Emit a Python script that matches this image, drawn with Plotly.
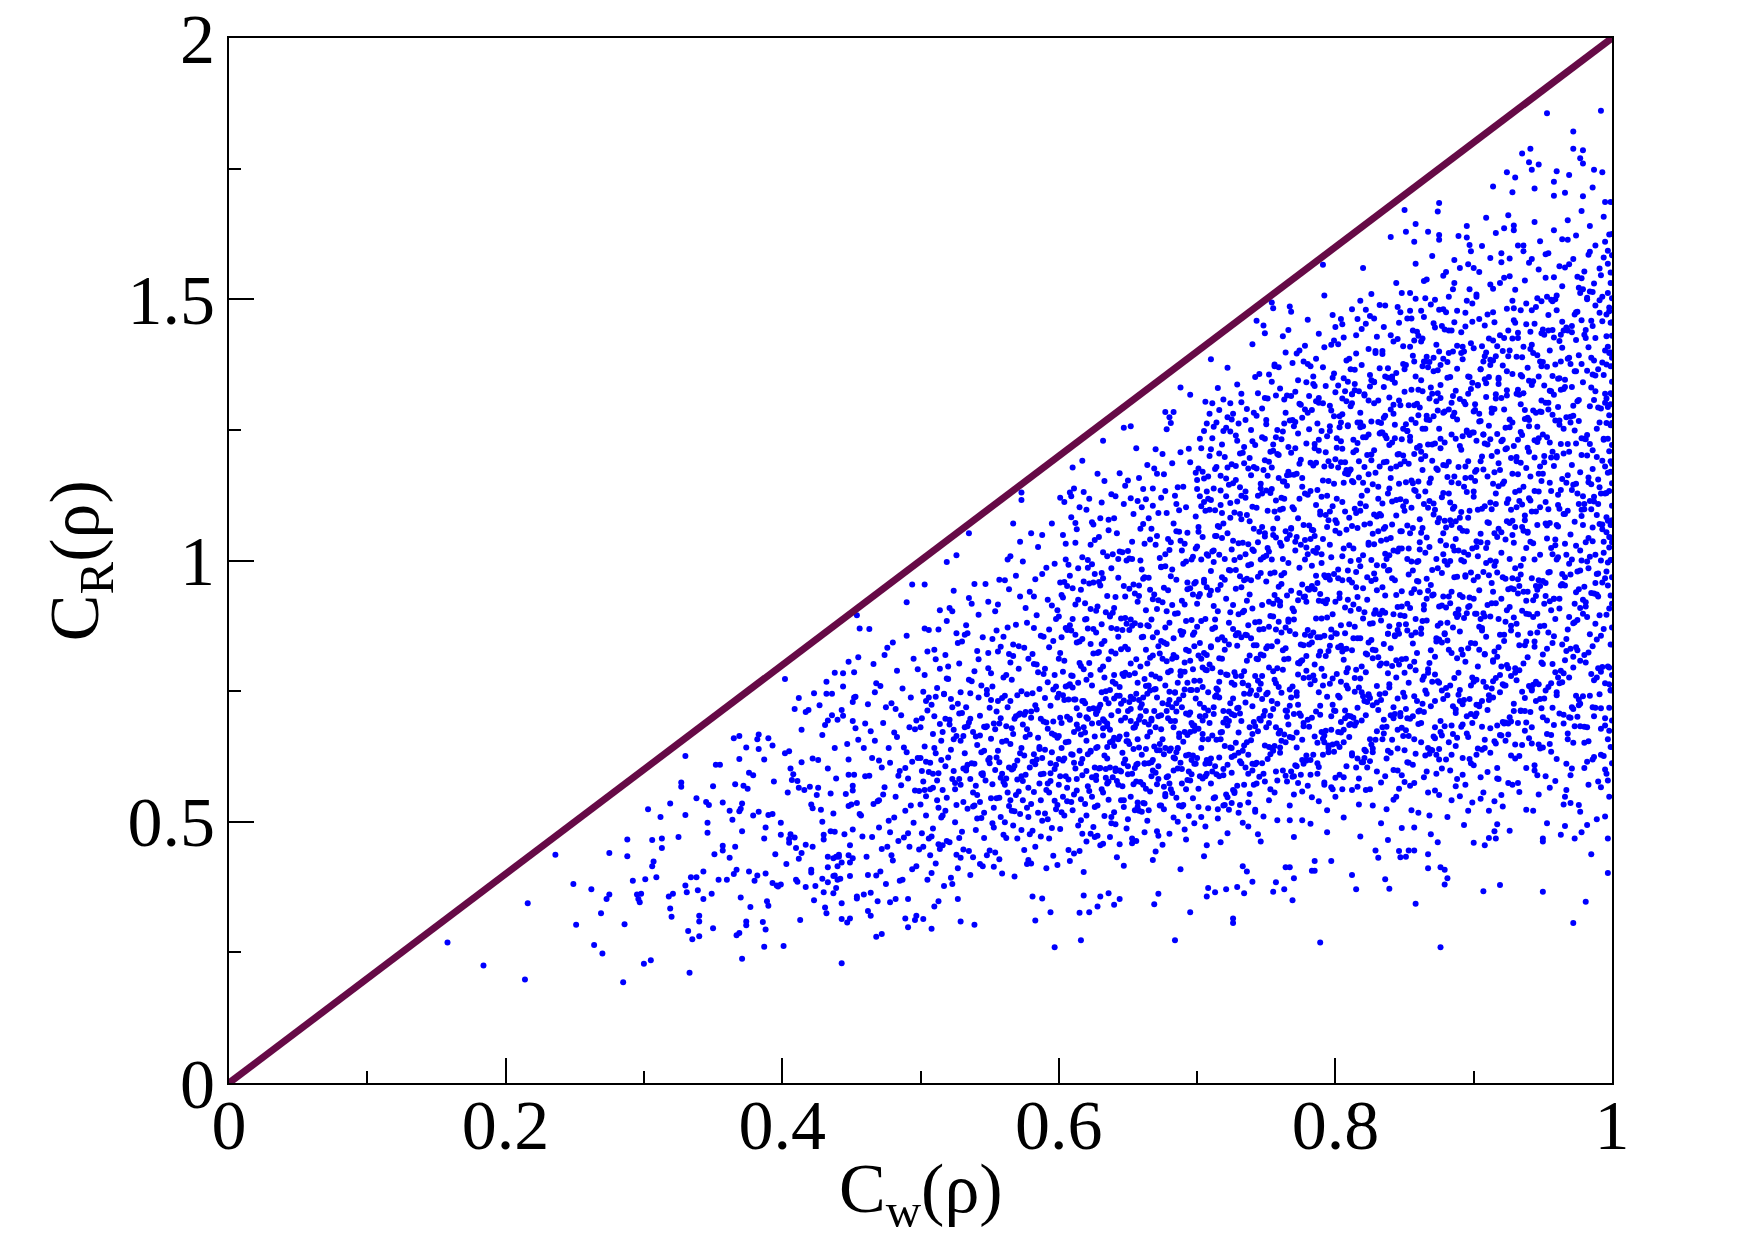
import plotly.graph_objects as go

# Points as (C_w, C_R) in thousandths, read/
PTS_015_045 = [(158,269),(184,225),(214,198),(216,344),(236,437),(249,381),(251,303),(262,371),(264,264),(269,325),(270,248),(273,352),(275,361),(275,440),(285,193),(286,304),(288,434),(288,466),(292,387),(295,361),(296,352),(297,346),(298,362),(301,390),(300,228),(305,235),(303,524),(306,465),(306,415),(307,424),(309,394),(312,509),(313,468),(313,450),(318,357),(319,334),(320,318),(321,362),(319,535),(325,471),(327,575),(327,567),(330,626),(330,513),(330,378),(331,365),(332,291),(333,211),(334,394),(338,394),(335,275),(338,545),(339,369),(340,309),(340,281),(340,320),(343,405),(343,352),(345,538),(347,532),(346,498),(346,479),(349,362),(350,568),(350,296),(351,438),(352,609),(355,609),(354,389),(357,537),(357,454),(357,445),(360,389),(362,431),(362,521),(364,504),(365,660),(366,572),(366,452),(367,408),(367,283),(369,287),(365,400),(369,620),(369,664),(369,520),(370,525),(371,535),(370,355),(371,482),(371,238),(372,569),(375,563),(374,642),(374,309),(374,302),(376,594),(379,589),(376,405),(377,337),(379,512),(380,387),(382,397),(383,519),(382,658),(383,667),(383,639),(386,308),(387,261),(387,619),(388,294),(388,489),(387,468),(388,401),(389,348),(390,339),(390,660),(393,646),(390,513),(393,515),(393,383),(394,577),(395,438),(396,378),(397,376),(399,380),(399,498),(399,475),(401,262),(402,773),(402,631),(405,635),(403,419),(404,556),(405,460),(405,467),(406,476),(406,602),(407,580),(408,591),(409,716),(409,470),(410,450),(411,578),(410,389),(411,385),(412,429),(412,565),(412,737),(413,312),(414,676),(414,614),(414,440),(416,561),(417,456),(417,375),(417,710),(419,714),(420,567),(421,533),(421,408),(421,403),(422,621),(422,452),(422,526),(423,350),(423,746),(424,377),(425,551),(426,618),(426,565),(427,723),(428,523),(429,666),(429,500),(429,391),(430,475),(430,466),(430,365),(431,336),(431,685),(432,768),(432,325),(433,694),(433,602),(433,433),(433,413),(433,384),(432,745),(436,745),(435,554),(435,482),(437,516),(436,704),(437,430),(437,363),(437,396),(438,397),(438,785),(438,641),(438,481),(439,583),(439,373),(440,415),(440,389),(439,433),(440,695),(441,433),(441,437),(442,391),(443,422),(443,344),(443,229),(443,314),(444,784),(444,759),(443,714),(444,703),(445,476),(446,553),(447,307),(447,649),(448,619),(448,590),(448,806),(448,530),(448,436),(449,422),(449,455),(449,396),(449,315),(450,533),(451,485),(451,430),(451,729),(451,560),(451,693),(452,786),(451,569),(452,590),(452,738),(453,679),(453,739),(454,536),(454,357),(455,815),(455,657),(456,515)]

PTS_045_050 = [(468,280),(472,285),(462,329),(464,320),(454,353),(459,361),(464,364),(469,348),(478,346),(482,352),(491,352),(491,298),(489,315),(496,312),(497,320),(456,870),(463,869),(454,895),(490,920),(494,954),
(457,512),(459,641),(461,433),(462,725),(463,588),(465,471),(466,802),(467,655),(468,397),(469,539),(470,617),(471,760),(472,448),(473,689),(474,566),(475,381),(476,833),(477,502),(478,613),(479,727),(480,426),(481,671),(482,548),(483,789),(484,463),(485,597),(486,704),(487,389),(488,642),(489,521),(490,856),(491,583),(492,452),(493,738),(494,615),(495,498),(496,677),(497,415),(498,792),(499,559),
(458,472),(460,587),(462,398),(464,673),(466,534),(468,765),(470,489),(471,405),(473,552),(475,719),(477,641),(479,436),(481,508),(483,662),(485,387),(487,755),(489,603),(491,478),(493,531),(495,812),(497,694),(499,447),(460,688),(465,622),(470,541),(474,819),(478,480),(482,716),(486,570),(490,633),(494,409),(498,622),(476,452),(484,588),(492,681),(467,748),(472,604),(480,843),(488,470),(496,560)]

PTS_050_055 = [(502,314),(508,295),(510,338),(513,348),(527,352),(529,309),(539,303),(503,954),(519,997),(526,1010),(535,1052),
(500,533),(501,698),(502,452),(503,781),(504,615),(505,389),(506,867),(507,562),(508,724),(509,487),
(510,641),(511,420),(512,756),(513,593),(514,905),(515,508),(516,672),(517,377),(518,819),(519,546),
(520,623),(521,461),(522,735),(523,582),(524,942),(525,499),(526,664),(527,411),(528,803),(529,571),
(530,708),(531,447),(532,631),(533,876),(534,525),(535,690),(536,398),(537,769),(538,556),(539,955),
(540,484),(541,647),(542,738),(543,419),(544,592),(545,853),(546,517),(547,681),(548,436),(549,794),
(500,622),(502,577),(504,731),(506,468),(508,402),(510,829),(512,541),(514,687),(516,455),(518,606),
(520,773),(522,393),(524,658),(526,532),(528,707),(530,481),(532,858),(534,609),(536,746),(538,432),
(540,569),(542,896),(544,507),(546,636),(548,752),(501,478),(503,644),(505,713),(507,436),(509,592),
(511,811),(513,527),(515,618),(517,745),(519,463),(521,686),(523,381),(525,574),(527,842),(529,655),
(531,538),(533,719),(535,444),(537,612),(539,788),(541,506),(543,665),(545,415),(547,579),(549,921),
(504,549),(509,668),(514,448),(519,774),(524,597),(529,431),(534,683),(539,531),(544,761),(549,618),
(506,595),(511,739),(516,561),(521,909),(526,437),(531,664),(536,582),(541,827),(546,469),(513,457),
(523,719),(533,603),(543,538),(548,683),(503,870),(518,697),(528,582),(538,672),(545,593),(535,928)]

PTS_055_060 = [(581,357),(588,353),(583,311),(594,327),(597,260),(567,1071),(573,1130),(573,1116),
(550,612),(551,784),(552,497),(553,688),(554,903),(555,545),(556,731),(557,428),(558,835),(559,653),
(560,576),(561,962),(562,469),(563,719),(564,604),(565,805),(566,521),(567,668),(568,395),(569,877),
(570,742),(571,558),(572,631),(573,484),(574,998),(575,705),(576,590),(577,419),(578,812),(579,667),
(580,534),(581,746),(582,871),(583,452),(584,619),(585,1026),(586,573),(587,697),(588,502),(589,783),
(590,638),(591,411),(592,925),(593,556),(594,722),(595,488),(596,846),(597,601),(598,759),(599,532),
(550,718),(552,572),(554,441),(556,636),(558,509),(560,854),(562,683),(564,530),(566,772),(568,607),
(570,468),(572,931),(574,578),(576,662),(578,427),(580,711),(582,557),(584,801),(586,643),(588,974),
(590,516),(592,678),(594,593),(596,435),(598,888),(551,659),(553,527),(555,866),(557,614),(559,401),
(561,741),(563,556),(565,649),(567,493),(569,702),(571,836),(573,587),(575,446),(577,677),(579,940),
(581,615),(583,723),(585,517),(587,856),(589,592),(591,690),(593,468),(595,633),(597,781),(599,661),
(552,759),(557,688),(562,583),(567,817),(572,515),(577,744),(582,629),(587,472),(592,767),(597,540),
(554,677),(559,592),(564,945),(569,551),(574,686),(579,476),(584,715),(589,854),(594,578),(599,417),
(551,545),(556,826),(561,499),(566,600),(571,705),(576,909),(581,483),(586,754),(591,561),(596,692),
(553,414),(558,698),(563,872),(568,520),(573,641),(578,565),(583,964),(588,622),(593,834),(598,609),
(555,623),(560,475),(565,731),(570,617),(575,833),(580,420),(585,661),(590,793),(595,914),(599,738),
(557,546),(567,602),(577,527),(587,591),(597,666),(562,781),(572,707),(582,802),(592,505),(550,445),
(565,1008),(580,1052),(595,1071)]

PTS_060_065 = [(601,1120),(609,1123),(610,1178),(617,1191),(632,1229),(647,1254),(616,273),(615,326),(622,327),(628,338),(640,341),(618,359),(630,357),(636,363),(644,352),
(600,664),(601,823),(602,518),(603,742),(604,959),(605,587),(606,701),(607,446),(608,876),(609,629),
(610,779),(611,552),(612,1034),(613,686),(614,493),(615,845),(616,612),(617,731),(618,404),(619,918),
(620,655),(621,568),(622,804),(623,477),(624,993),(625,717),(626,604),(627,862),(628,531),(629,689),
(630,1081),(631,748),(632,458),(633,627),(634,901),(635,573),(636,811),(637,676),(638,509),(639,1012),
(640,736),(641,597),(642,432),(643,854),(644,663),(645,541),(646,783),(647,1108),(648,619),(649,487),
(600,571),(602,689),(604,808),(606,539),(608,425),(610,947),(612,602),(614,766),(616,503),(618,681),
(620,888),(622,716),(624,548),(626,974),(628,643),(630,455),(632,797),(634,584),(636,1058),(638,704),
(640,518),(642,869),(644,758),(646,632),(648,931),(601,486),(603,617),(605,1002),(607,761),(609,538),
(611,672),(613,843),(615,444),(617,589),(619,727),(621,986),(623,636),(625,490),(627,708),(629,825),
(631,562),(633,776),(635,932),(637,471),(639,655),(641,822),(643,571),(645,694),(647,416),(649,879),
(600,745),(605,652),(610,522),(615,704),(620,462),(625,822),(630,603),(635,688),(640,909),(645,596),
(602,934),(607,581),(612,734),(617,850),(622,559),(627,641),(632,966),(637,604),(642,741),(647,541),
(603,548),(608,695),(613,582),(618,792),(623,907),(628,473),(633,693),(638,826),(643,658),(648,785),
(604,621),(609,866),(614,985),(619,534),(624,688),(629,1045),(634,750),(639,585),(644,1017),(649,667),
(601,699),(606,867),(611,439),(616,944),(621,697),(626,528),(631,878),(636,727),(641,495),(646,568),
(600,893),(604,512),(608,763),(612,858),(616,667),(620,597),(624,761),(628,912),(632,679),(636,542),
(640,645),(644,457),(648,699),(603,787),(613,717),(623,840),(633,511),(643,967),(607,653),(617,477),
(627,580),(637,895),(647,732),(605,759),(615,636),(625,1069),(635,621),(645,830),(610,628),(620,772),
(630,724),(640,781),(650,606)]

PTS_065_070 = [(652,1257),(677,1284),(683,1284),(680,1274),(681,1263),(688,1331),(695,1317),(669,342),(672,362),(684,273),(695,327),
(650,712),(651,867),(652,548),(653,1003),(654,639),(655,784),(656,463),(657,921),(658,695),(659,576),
(660,1102),(661,738),(662,611),(663,829),(664,502),(665,967),(666,672),(667,887),(668,427),(669,753),
(670,594),(671,1047),(672,702),(673,531),(674,846),(675,658),(676,1165),(677,761),(678,585),(679,943),
(680,477),(681,693),(682,812),(683,1071),(684,621),(685,546),(686,899),(687,734),(688,409),(689,1019),
(690,653),(691,787),(692,562),(693,945),(694,705),(695,1188),(696,618),(697,858),(698,497),(699,736),
(650,591),(652,803),(654,954),(656,687),(658,521),(660,628),(662,1032),(664,745),(666,558),(668,853),
(670,681),(672,473),(674,987),(676,629),(678,807),(680,573),(682,719),(684,1124),(686,641),(688,865),
(690,532),(692,998),(694,596),(696,752),(698,684),(651,649),(653,468),(655,880),(657,611),(659,797),
(661,536),(663,712),(665,1081),(667,587),(669,935),(671,637),(673,774),(675,456),(677,1012),(679,698),
(681,562),(683,819),(685,727),(687,1096),(689,601),(691,485),(693,666),(695,808),(697,545),(699,959),
(650,1018),(655,522),(660,853),(665,612),(670,778),(675,920),(680,636),(685,1056),(690,742),(695,579),
(652,693),(657,766),(662,480),(667,694),(672,924),(677,553),(682,983),(687,669),(692,829),(697,627),
(654,572),(659,1061),(664,876),(669,644),(674,531),(679,786),(684,693),(689,858),(694,511),(699,1084),
(651,781),(656,609),(661,965),(666,751),(671,572),(676,843),(681,1035),(686,500),(691,916),(696,689),
(653,875),(658,642),(663,563),(668,1138),(673,637),(678,712),(683,598),(688,780),(693,1053),(698,770),
(650,505),(654,735),(658,932),(662,691),(666,814),(670,443),(674,704),(678,1091),(682,555),(686,766),
(690,994),(694,628),(698,862),(652,1119),(656,745),(660,519),(664,663),(668,598),(672,836),(676,524),
(680,881),(684,748),(688,613),(692,707),(696,1002),(657,537),(663,639),(667,782),(673,1005),(679,587),
(685,633),(691,753),(697,935),(655,681),(665,522),(675,727),(685,815),(695,672),(659,718),(671,907),
(683,681),(689,529),(699,611),(661,1137),(677,872),(693,580),(670,1213)]

PTS_070_075 = [(710,1385),(722,1369),(740,1414),(743,1459),(748,1450),(749,1435),(707,357),(708,373),(713,365),(721,371),(729,375),(734,363),(740,385),(736,405),(733,415),(726,315),(726,306),(705,434),
(700,752),(701,931),(702,587),(703,1104),(704,668),(705,823),(706,491),(707,1012),(708,713),(709,612),
(710,1213),(711,794),(712,545),(713,887),(714,657),(715,1066),(716,738),(717,461),(718,968),(719,601),
(720,829),(721,1157),(722,684),(723,523),(724,901),(725,766),(726,1038),(727,627),(728,857),(729,569),
(730,1262),(731,707),(732,949),(733,498),(734,788),(735,1120),(736,652),(737,876),(738,553),(739,993),
(740,721),(741,1179),(742,610),(743,838),(744,476),(745,1055),(746,764),(747,915),(748,592),(749,1233),
(700,622),(702,842),(704,1045),(706,703),(708,526),(710,942),(712,1138),(714,591),(716,813),(718,672),
(720,1003),(722,547),(724,727),(726,869),(728,1181),(730,632),(732,779),(734,571),(736,1087),(738,745),
(740,908),(742,519),(744,673),(746,1002),(748,818),(701,678),(703,509),(705,963),(707,790),(709,1097),
(711,596),(713,739),(715,849),(717,1162),(719,690),(721,552),(723,982),(725,641),(727,762),(729,1229),
(731,616),(733,901),(735,728),(737,537),(739,851),(741,691),(743,1101),(745,586),(747,779),(749,646),
(700,1154),(705,718),(710,573),(715,944),(720,645),(725,1184),(730,861),(735,604),(740,1021),(745,753),
(702,726),(707,618),(712,997),(717,786),(722,1274),(727,555),(732,693),(737,1031),(742,882),(747,612),
(704,583),(709,801),(714,1179),(719,531),(724,1082),(729,717),(734,962),(739,656),(744,811),(749,1046),
(701,1055),(706,888),(711,1017),(716,623),(721,782),(726,561),(731,1140),(736,808),(741,571),(746,694),
(703,812),(708,1161),(713,606),(718,853),(723,711),(728,946),(733,636),(738,1196),(743,742),(748,510),
(700,917),(704,758),(708,658),(712,719),(716,1064),(720,532),(724,642),(728,779),(732,1079),(736,923),
(740,611),(744,969),(748,703),(702,1233),(706,587),(710,836),(714,755),(718,1091),(722,609),(726,736),
(730,517),(734,1217),(738,681),(742,779),(746,1138),(701,563),(705,1112),(709,689),(713,1047),(717,658),
(721,927),(725,536),(729,837),(733,766),(737,592),(741,838),(745,883),(749,577),(703,641),(711,869),
(719,1248),(727,704),(735,858),(743,613),(707,949),(715,524),(723,839),(731,970),(739,751),(747,1291),
(706,1304),(724,1301),(716,1288),(744,1320),(732,1319),(750,960)]

PTS_075_080 = [(754,1494),(755,1483),(767,1486),(768,1476),(791,1566),(755,366),(757,384),(763,371),(769,350),(770,392),(764,413),(767,413),(783,406),(785,406),(785,425),(797,425),(789,269),
(750,832),(751,1024),(752,643),(753,1208),(754,731),(755,917),(756,556),(757,1115),(758,794),(759,669),
(760,1329),(761,862),(762,598),(763,976),(764,713),(765,1163),(766,812),(767,503),(768,1062),(769,661),
(770,903),(771,1265),(772,748),(773,574),(774,986),(775,839),(776,1141),(777,689),(778,931),(779,627),
(780,1376),(781,776),(782,1041),(783,547),(784,862),(785,1223),(786,711),(787,957),(788,605),(789,1088),
(790,793),(791,1301),(792,665),(793,918),(794,522),(795,1152),(796,837),(797,1006),(798,648),(799,1358),
(750,681),(752,921),(754,1137),(756,772),(758,579),(760,1034),(762,1247),(764,652),(766,887),(768,738),
(770,1098),(772,606),(774,803),(776,954),(778,1289),(780,695),(782,856),(784,628),(786,1187),(788,818),
(790,995),(792,571),(794,739),(796,1094),(798,897),(751,747),(753,562),(755,1061),(757,868),(759,1202),
(761,655),(763,811),(765,933),(767,1268),(769,759),(771,608),(773,1081),(775,703),(777,838),(779,1341),
(781,682),(783,990),(785,801),(787,592),(789,936),(791,761),(793,1207),(795,646),(797,853),(799,713),
(750,1269),(755,788),(760,632),(765,1041),(770,706),(775,1298),(780,946),(785,663),(790,1122),(795,827),
(752,795),(757,681),(762,1099),(767,865),(772,1396),(777,611),(782,763),(787,1135),(792,972),(797,676),
(754,641),(759,883),(764,1283),(769,586),(774,1185),(779,789),(784,1058),(789,722),(794,891),(799,1147),
(751,1162),(756,977),(761,1120),(766,686),(771,859),(776,618),(781,1251),(786,889),(791,628),(796,764),
(753,894),(758,1250),(763,667),(768,942),(773,782),(778,1039),(783,699),(788,1311),(793,817),(798,562),
(750,1009),(754,836),(758,726),(762,791),(766,1170),(770,587),(774,707),(778,858),(782,1187),(786,1015),
(790,672),(794,1064),(798,774),(752,1356),(756,645),(760,921),(764,832),(768,1206),(772,671),(776,809),
(780,569),(784,1338),(788,748),(792,856),(796,1248),(751,620),(755,1222),(759,758),(763,1151),(767,722),
(771,1019),(775,590),(779,921),(783,843),(787,651),(791,922),(795,971),(799,634),(753,703),(761,955),
(769,1378),(777,775),(785,945),(793,674),(757,1044),(765,577),(773,924),(781,1067),(789,826),(797,1413),
(756,1375),(774,1402),(762,1429),(788,1434),(780,1461),(798,1470),(766,1441),(792,1507),(758,925),(776,503)]

PTS_080_085 = [(820,1560),(840,1619),(815,371),(812,398),(836,390),(839,372),(829,445),(831,431),(838,465),(846,444),(847,432),
(800,861),(801,1072),(802,672),(803,1255),(804,768),(805,962),(806,585),(807,1167),(808,831),(809,703),
(810,1386),(811,904),(812,627),(813,1023),(814,749),(815,1211),(816,851),(817,533),(818,1109),(819,694),
(820,947),(821,1318),(822,786),(823,604),(824,1034),(825,879),(826,1192),(827,723),(828,975),(829,657),
(830,1428),(831,815),(832,1089),(833,575),(834,904),(835,1273),(836,746),(837,1003),(838,636),(839,1138),
(840,832),(841,1352),(842,698),(843,962),(844,548),(845,1203),(846,877),(847,1056),(848,680),(849,1410),
(800,712),(802,966),(804,1188),(806,810),(808,606),(810,1082),(812,1301),(814,684),(816,930),(818,774),
(820,1149),(822,635),(824,843),(826,1001),(828,1342),(830,728),(832,897),(834,658),(836,1239),(838,860),
(840,1043),(842,599),(844,776),(846,1147),(848,941),(801,783),(803,590),(805,1112),(807,910),(809,1257),
(811,687),(813,851),(815,978),(817,1324),(819,797),(821,638),(823,1134),(825,737),(827,880),(829,1397),
(831,714),(833,1038),(835,840),(837,621),(839,982),(841,798),(843,1260),(845,676),(847,895),(849,747),
(800,1322),(805,826),(810,662),(815,1091),(820,740),(825,1355),(830,991),(835,695),(840,1176),(845,867),
(802,834),(807,713),(812,1152),(817,907),(822,1453),(827,640),(832,799),(837,1189),(842,1019),(847,708),
(804,671),(809,925),(814,1338),(819,614),(824,1241),(829,828),(834,1109),(839,757),(844,934),(849,1201),
(801,1216),(806,1023),(811,1174),(816,718),(821,901),(826,648),(831,1306),(836,933),(841,657),(846,801),
(803,937),(808,1305),(813,699),(818,989),(823,820),(828,1088),(833,733),(838,1368),(843,857),(848,589),
(800,1057),(804,876),(808,761),(812,828),(816,1225),(820,614),(824,741),(828,898),(832,1243),(836,1064),
(840,704),(844,1116),(848,811),(802,1414),(806,676),(810,963),(814,873),(818,1264),(822,704),(826,848),
(830,596),(834,1395),(838,784),(842,897),(846,1306),(801,650),(805,1280),(809,794),(813,1207),(817,757),
(821,1069),(825,616),(829,964),(833,885),(837,682),(841,966),(845,1017),(849,664),(803,738),(811,999),
(819,1443),(827,813),(835,990),(843,706),(807,1094),(815,604),(823,968),(831,1118),(839,874),(847,1475),
(804,1462),(818,1497),(826,1510),(836,1488),(844,1531),(812,1481),(848,1023),(825,562),(806,1349),(833,1245),
(800,548),(809,1165),(816,567),(828,1463),(841,1226),(846,563)]

PTS_085_090 = [(850,1671),(851,1629),(857,1610),(858,1644),(867,1629),(875,1623),(875,1614),(875,1684),(874,1668),(895,1640),(889,1621),(895,1618),(897,1604),(851,433),(853,445),(857,445),(857,489),(858,343),(867,438),(867,411),(874,461),(876,413),(876,260),(879,380),(881,392),(879,408),
(850,894),(851,1113),(852,698),(853,1297),(854,797),(855,998),(856,609),(857,1204),(858,862),(859,731),
(860,1430),(861,939),(862,652),(863,1062),(864,778),(865,1252),(866,885),(867,556),(868,1149),(869,721),
(870,982),(871,1362),(872,816),(873,628),(874,1073),(875,912),(876,1233),(877,751),(878,1012),(879,683),
(880,1475),(881,847),(882,1128),(883,598),(884,940),(885,1315),(886,775),(887,1041),(888,661),(889,1179),
(890,864),(891,1397),(892,725),(893,998),(894,571),(895,1246),(896,911),(897,1095),(898,706),(899,1457),
(850,739),(852,1003),(854,1229),(856,841),(858,630),(860,1123),(862,1345),(864,710),(866,965),(868,804),
(870,1191),(872,660),(874,875),(876,1038),(878,1386),(880,756),(882,931),(884,684),(886,1283),(888,892),
(890,1082),(892,622),(894,806),(896,1190),(898,977),(851,812),(853,613),(855,1153),(857,945),(859,1300),
(861,713),(863,884),(865,1015),(867,1370),(869,828),(871,663),(873,1176),(875,766),(877,914),(879,1442),
(881,742),(883,1077),(885,872),(887,645),(889,1019),(891,829),(893,1304),(895,702),(897,929),(899,776),
(850,1366),(855,857),(860,687),(865,1132),(870,768),(875,1400),(880,1029),(885,721),(890,1219),(895,899),
(852,866),(857,740),(862,1194),(867,942),(872,1499),(877,665),(882,829),(887,1233),(892,1057),(897,735),
(854,697),(859,961),(864,1381),(869,638),(874,1287),(879,859),(884,1150),(889,785),(894,969),(899,1245),
(851,1261),(856,1062),(861,1219),(866,745),(871,935),(876,672),(881,1350),(886,968),(891,682),(896,832),
(853,973),(858,1352),(863,726),(868,1026),(873,851),(878,1129),(883,761),(888,1411),(893,890),(898,612),
(850,1095),(854,909),(858,790),(862,860),(866,1270),(870,637),(874,769),(878,931),(882,1289),(886,1103),
(890,731),(894,1158),(898,842),(852,1463),(856,702),(860,999),(864,906),(868,1310),(872,731),(876,880),
(880,619),(884,1440),(888,813),(892,930),(896,1352),(851,675),(855,1327),(859,823),(863,1252),(867,785),
(871,1109),(875,639),(879,999),(883,918),(887,708),(891,1001),(895,1056),(899,689),(853,766),(861,1035),
(869,1490),(877,843),(885,1027),(893,733),(857,1135),(865,627),(873,1003),(881,1160),(889,906),(897,1519),
(854,1512),(866,1538),(878,1545),(890,1560),(858,1568),(870,1583),(886,1575),(898,1592),(862,1478),(882,1505),
(850,576),(857,1421),(864,585),(871,1454),(879,1226),(888,582),(894,1474),(860,1278),(876,1311),(892,1385),
(855,522),(868,512),(884,541),(896,521),(863,1425),(873,592)]

PTS_090_095 = [(909,1656),(916,1627),(922,1636),(929,1641),(929,1632),(925,1661),(914,1716),(924,1743),(930,1733),(928,1705),(935,1779),(941,1788),(940,1762),(947,1758),(942,1748),(944,1712),(900,460),(908,455),(911,469),(916,468),(917,495),(915,482),(907,367),(919,379),
(900,927),(901,1152),(902,724),(903,1336),(904,829),(905,1035),(906,638),(907,1241),(908,893),(909,758),
(910,1471),(911,972),(912,679),(913,1098),(914,806),(915,1290),(916,918),(917,583),(918,1186),(919,748),
(920,1015),(921,1401),(922,846),(923,655),(924,1110),(925,945),(926,1270),(927,779),(928,1049),(929,712),
(930,1518),(931,879),(932,1165),(933,626),(934,973),(935,1352),(936,803),(937,1077),(938,690),(939,1216),
(940,897),(941,1438),(942,754),(943,1033),(944,598),(945,1283),(946,944),(947,1132),(948,735),(949,1496),
(900,768),(902,1037),(904,1266),(906,871),(908,657),(910,1161),(912,1384),(914,738),(916,998),(918,834),
(920,1228),(922,688),(924,905),(926,1072),(928,1425),(930,785),(932,964),(934,713),(936,1320),(938,923),
(940,1119),(942,650),(944,835),(946,1227),(948,1011),(901,841),(903,640),(905,1190),(907,978),(909,1339),
(911,742),(913,918),(915,1052),(917,1410),(919,858),(921,691),(923,1213),(925,794),(927,947),(929,1483),
(931,771),(933,1114),(935,904),(937,674),(939,1053),(941,861),(943,1343),(945,731),(947,962),(949,805),
(900,1406),(905,888),(910,714),(915,1169),(920,797),(925,1440),(930,1064),(935,749),(940,1257),(945,932),
(902,898),(907,768),(912,1232),(917,977),(922,1541),(927,692),(932,858),(937,1271),(942,1094),(947,763),
(904,724),(909,995),(914,1421),(919,666),(924,1326),(929,891),(934,1187),(939,815),(944,1002),(949,1284),
(901,1299),(906,1099),(911,1258),(916,775),(921,968),(926,700),(931,1390),(936,1003),(941,710),(946,862),
(903,1008),(908,1391),(913,755),(918,1061),(923,883),(928,1166),(933,790),(938,1452),(943,924),(948,640),
(900,1132),(904,943),(908,821),(912,893),(916,1310),(920,665),(924,800),(928,966),(932,1327),(936,1141),
(940,760),(944,1197),(948,874),(902,1505),(906,731),(910,1034),(914,940),(918,1350),(922,761),(926,911),
(930,648),(934,1479),(938,845),(942,966),(946,1393),(901,702),(905,1366),(909,854),(913,1291),(917,816),
(921,1147),(925,667),(929,1034),(933,951),(937,737),(941,1036),(945,1094),(949,717),(903,797),(911,1072),
(919,1531),(927,875),(935,1064),(943,762),(907,1174),(915,654),(923,1040),(931,1198),(939,940),(947,1557),
(904,1552),(912,1579),(920,1588),(932,1603),(940,1570),(948,1611),(906,1602),(926,1578),(936,1592),(944,1648),
(900,608),(910,595),(918,582),(928,571),(938,603),(946,589),(905,544),(921,529),(933,557),(943,521),
(908,1450),(924,1482),(937,1536),(949,1372),(914,1520),(930,1455),(902,1173),(916,1128),(934,1246),(942,1413),
(900,1560),(948,1180)]

PTS_095_100 = [(953,1856),(992,1861),(972,1821),(972,1788),(979,1785),(977,1770),(979,1760),(960,1745),(987,1748),(993,1743),(969,1738),(958,1725),(966,1704),(986,1714),(958,1698),(979,1697),(999,1686),(995,1686),(950,366),(950,468),(950,462),(963,475),(973,468),(966,492),(978,480),(982,494),(972,306),(981,347),(997,402),(985,438),(995,510),(997,468),
(950,961),(951,1188),(952,751),(953,1371),(954,862),(955,1072),(956,666),(957,1279),(958,927),(959,786),
(960,1507),(961,1006),(962,707),(963,1135),(964,839),(965,1328),(966,952),(967,611),(968,1223),(969,776),
(970,1050),(971,1437),(972,880),(973,683),(974,1147),(975,979),(976,1307),(977,808),(978,1085),(979,740),
(980,1553),(981,912),(982,1201),(983,654),(984,1007),(985,1388),(986,836),(987,1113),(988,718),(989,1252),
(990,931),(991,1474),(992,787),(993,1069),(994,626),(995,1319),(996,979),(997,1168),(998,763),(999,1531),
(950,802),(952,1071),(954,1302),(956,905),(958,685),(960,1197),(962,1420),(964,767),(966,1032),(968,868),
(970,1264),(972,716),(974,939),(976,1108),(978,1460),(980,819),(982,998),(984,741),(986,1356),(988,957),
(990,1155),(992,678),(994,869),(996,1263),(998,1045),(951,875),(953,668),(955,1226),(957,1012),(959,1375),
(961,776),(963,952),(965,1089),(967,1446),(969,892),(971,719),(973,1249),(975,828),(977,981),(979,1519),
(981,805),(983,1150),(985,938),(987,702),(989,1087),(991,895),(993,1379),(995,765),(997,996),(999,839),
(950,1442),(955,922),(960,748),(965,1205),(970,831),(975,1476),(980,1098),(985,783),(990,1293),(995,966),
(952,932),(957,802),(962,1268),(967,1011),(972,1577),(977,726),(982,892),(987,1307),(992,1128),(997,797),
(954,758),(959,1029),(964,1457),(969,700),(974,1362),(979,925),(984,1223),(989,849),(994,1036),(999,1320),
(951,1335),(956,1133),(961,1294),(966,809),(971,1002),(976,734),(981,1426),(986,1037),(991,744),(996,896),
(953,1042),(958,1427),(963,789),(968,1095),(973,917),(978,1202),(983,824),(988,1488),(993,958),(998,674),
(950,1166),(954,977),(958,855),(962,927),(966,1346),(970,699),(974,834),(978,1000),(982,1363),(986,1175),
(990,794),(994,1233),(998,908),(952,1541),(956,765),(960,1068),(964,974),(968,1386),(972,795),(976,945),
(980,682),(984,1515),(988,879),(992,1000),(996,1429),(951,736),(955,1402),(959,888),(963,1327),(967,850),
(971,1183),(975,701),(979,1068),(983,985),(987,771),(991,1070),(995,1128),(999,751),(953,831),(961,1106),
(969,1567),(977,909),(985,1098),(993,796),(957,1208),(965,688),(973,1074),(981,1232),(989,974),(997,1593),
(954,1588),(964,1615),(974,1622),(984,1640),(994,1658),(958,1632),(968,1651),(978,1669),(988,1603),(998,1624),
(950,642),(960,620),(970,589),(980,603),(990,577),(955,565),(966,548),(976,532),(986,619),(996,592),
(1000,1105),(1000,872),(1000,1318),(1000,694),(1000,1221),(1000,968),(1000,1456),(1000,781),(1000,1035),(1000,1584),
(999,1190),(999,643),(998,1397),(998,1278),(999,933),(997,1512),(996,1083),(999,1044),(998,718),(999,1372),
(957,1496),(975,1543),(991,1559),(962,1563),(983,1585),(953,1505),(987,1530),(995,1610)]

# Extra estimated points for the dense core of the cloud
PTS_CORE_050_060 = [(500,681),(502,749),(503,561),(505,826),(507,613),(508,472),(510,702),(512,579),(513,868),(515,655),
(517,744),(518,521),(520,797),(522,638),(523,903),(525,562),(527,726),(528,469),(530,845),(532,681),
(533,598),(535,772),(537,917),(538,529),(540,663),(542,811),(543,703),(545,589),(547,955),(548,744),
(550,622),(552,850),(553,489),(555,711),(557,963),(558,584),(560,776),(562,655),(563,1002),(565,541),
(567,839),(568,697),(570,581),(572,1036),(573,750),(575,627),(577,881),(578,509),(580,699),(582,931),
(583,610),(585,786),(587,541),(588,1049),(590,737),(592,573),(593,868),(595,669),(597,994),(598,524),
(501,597),(506,738),(511,631),(516,512),(521,695),(526,861),(531,602),(536,697),(541,551),(546,682),
(551,733),(556,916),(561,571),(566,679),(571,793),(576,710),(581,821),(586,639),(591,986),(596,753),
(504,512),(514,793),(524,676),(534,861),(544,633),(554,599),(564,821),(574,541),(584,895),(594,612),
(509,565),(519,884),(529,748),(539,611),(549,823),(559,737),(569,971),(579,604),(589,692),(599,905)]

PTS_CORE_060_070 = [(600,812),(601,958),(602,641),(603,1049),(604,733),(605,871),(606,565),(607,992),(608,697),(609,1083),
(610,757),(611,613),(612,916),(613,1060),(614,678),(615,804),(616,543),(617,1006),(618,731),(619,887),
(620,1097),(621,629),(622,956),(623,781),(624,585),(625,869),(626,1039),(627,706),(628,823),(629,602),
(630,952),(631,1111),(632,665),(633,846),(634,735),(635,1008),(636,577),(637,893),(638,1127),(639,768),
(640,661),(641,930),(642,1052),(643,712),(644,598),(645,889),(646,1016),(647,779),(648,1143),(649,654),
(650,830),(651,1004),(652,716),(653,592),(654,1089),(655,937),(656,811),(657,658),(658,1158),(659,876),
(660,725),(661,571),(662,968),(663,1117),(664,803),(665,686),(666,1040),(667,614),(668,926),(669,1176),
(670,754),(671,862),(672,1091),(673,649),(674,988),(675,812),(676,567),(677,1133),(678,903),(679,725),
(680,1020),(681,640),(682,1186),(683,851),(684,747),(685,963),(686,602),(687,1055),(688,788),(689,923),
(690,1141),(691,672),(692,884),(693,766),(694,1214),(695,947),(696,591),(697,1007),(698,836),(699,1168),
(600,620),(605,1032),(610,888),(615,1102),(620,700),(625,958),(630,791),(635,643),(640,1081),(645,726),
(650,1153),(655,603),(660,983),(665,874),(670,1030),(675,1204),(680,749),(685,1108),(690,863),(695,709),
(602,853),(607,734),(612,1072),(617,620),(622,1118),(627,904),(632,1016),(637,752),(642,578),(647,951),
(652,887),(657,1114),(662,773),(667,1061),(672,606),(677,989),(682,915),(687,662),(692,1102),(697,792),
(603,929),(608,1130),(613,560),(618,960),(623,1030),(628,712),(633,1152),(638,871),(643,1003),(648,835),
(653,1036),(658,733),(663,905),(668,1105),(673,822),(678,1251),(683,623),(688,1038),(693,958),(698,674),
(604,1112),(609,780),(614,925),(619,671),(624,1073),(629,959),(634,601),(639,900),(644,1167),(649,1000),
(654,680),(659,1000),(664,1183),(669,712),(674,1120),(679,1041),(684,898),(689,719),(694,827),(699,1023),
(606,951),(611,1138),(616,798),(621,870),(626,663),(631,976),(636,1078),(641,764),(646,867),(651,729),
(656,1215),(661,854),(666,944),(671,1166),(676,948),(681,789),(686,1140),(691,1032),(696,886),(601,587),
(611,734),(621,1001),(631,840),(641,1123),(651,946),(661,1070),(671,738),(681,970),(691,805),(618,1131),
(638,985),(658,952),(678,840),(698,956),(628,1166),(648,890),(668,818),(688,1207),(608,971),(663,760)]

PTS_CORE_070_080 = [(700,873),(701,1064),(702,702),(703,1215),(704,795),(705,958),(706,611),(707,1132),(708,748),(709,1281),
(710,834),(711,665),(712,1019),(713,1175),(714,742),(715,903),(716,587),(717,1106),(718,812),(719,1308),
(720,963),(721,697),(722,1052),(723,881),(724,1247),(725,624),(726,1148),(727,786),(728,982),(729,1337),
(730,718),(731,1089),(732,853),(733,1206),(734,646),(735,1012),(736,1290),(737,761),(738,935),(739,1163),
(740,598),(741,1061),(742,1351),(743,812),(744,1124),(745,697),(746,976),(747,1236),(748,869),(749,1052),
(750,744),(751,1310),(752,1017),(753,629),(754,1178),(755,893),(756,1372),(757,765),(758,1081),(759,950),
(760,674),(761,1232),(762,828),(763,1118),(764,1398),(765,712),(766,995),(767,1164),(768,596),(769,1269),
(770,887),(771,1036),(772,741),(773,1345),(774,938),(775,1193),(776,657),(777,1068),(778,1411),(779,817),
(780,1126),(781,944),(782,618),(783,1288),(784,780),(785,1047),(786,1386),(787,853),(788,1210),(789,705),
(790,1012),(791,1153),(792,779),(793,1334),(794,925),(795,633),(796,1257),(797,868),(798,1104),(799,1421),
(700,1027),(705,1248),(710,1116),(715,752),(720,1198),(725,1021),(730,897),(735,1269),(740,1103),(745,868),
(750,1261),(755,1049),(760,914),(765,1316),(770,1164),(775,807),(780,1012),(785,1334),(790,889),(795,1190),
(702,936),(707,819),(712,1256),(717,953),(722,781),(727,1092),(732,1303),(737,991),(742,683),(747,1128),
(752,873),(757,1236),(762,1003),(767,753),(772,1166),(777,930),(782,1372),(787,1024),(792,652),(797,1287),
(703,1002),(708,1118),(713,872),(718,1222),(723,693),(728,1154),(733,1034),(738,818),(743,1277),(748,1006),
(753,1129),(758,845),(763,1262),(768,1061),(773,804),(778,1128),(783,951),(788,1302),(793,1087),(798,724),
(704,1170),(709,934),(714,1047),(719,712),(724,981),(729,861),(734,1186),(739,962),(744,770),(749,1311),
(754,1002),(759,1158),(764,1056),(769,908),(774,1300),(779,1025),(784,1182),(789,853),(794,1238),(799,974),
(701,818),(706,1095),(711,1301),(716,1011),(721,1254),(726,915),(731,1205),(736,857),(741,1018),(746,1147),
(751,836),(756,1094),(761,972),(766,1217),(771,1323),(776,1158),(781,839),(786,1106),(791,1370),(796,1030),
(700,1137),(704,658),(708,1009),(712,913),(716,1205),(720,847),(724,1110),(728,1239),(732,1124),(736,965),
(740,1228),(744,1035),(748,1173),(752,1189),(756,934),(760,1097),(764,872),(768,1315),(772,1045),(776,1273),
(780,867),(784,1018),(788,923),(792,1180),(796,963),(702,1123),(706,791),(710,980),(714,1264),(718,1043),
(722,1178),(726,1281),(730,1033),(734,904),(738,1075),(742,1221),(746,820),(750,1134),(754,1342),(758,1204),
(762,1151),(766,883),(770,1257),(774,1118),(778,1002),(782,1133),(786,971),(790,1248),(794,1124),(798,1350),
(703,884),(713,1096),(723,1145),(733,765),(743,1176),(753,975),(763,1308),(773,1243),(783,1059),(793,968),
(707,1262),(717,1134),(727,1001),(737,1176),(747,1064),(757,1316),(767,1049),(777,1381),(787,1262),(797,1181),
(705,1157),(715,1330),(725,1270),(735,1132),(745,1357),(755,1210),(765,1143),(775,1030),(785,1215),(795,1077),
(709,1200),(719,1071),(729,1113),(739,1250),(749,1192),(759,1370),(769,1102),(779,1224),(789,1094),(799,1276),
(701,1176),(711,1234),(721,1123),(731,1006),(741,1283),(751,1095),(761,1028),(771,1215),(781,1315),(791,1041)]

PTS_CORE_080_090 = [(800,921),(801,1118),(802,741),(803,1276),(804,837),(805,1008),(806,652),(807,1188),(808,786),(809,1342),
(810,878),(811,702),(812,1066),(813,1231),(814,775),(815,949),(816,621),(817,1159),(818,851),(819,1374),
(820,1010),(821,731),(822,1104),(823,925),(824,1306),(825,658),(826,1203),(827,829),(828,1031),(829,1401),
(830,760),(831,1141),(832,897),(833,1263),(834,681),(835,1061),(836,1352),(837,803),(838,981),(839,1221),
(840,632),(841,1113),(842,1419),(843,855),(844,1180),(845,736),(846,1023),(847,1297),(848,912),(849,1104),
(850,785),(851,1374),(852,1067),(853,664),(854,1237),(855,938),(856,1440),(857,806),(858,1133),(859,997),
(860,711),(861,1293),(862,870),(863,1173),(864,1466),(865,751),(866,1044),(867,1222),(868,630),(869,1331),
(870,933),(871,1088),(872,782),(873,1413),(874,985),(875,1252),(876,693),(877,1121),(878,1481),(879,861),
(880,1182),(881,992),(882,652),(883,1351),(884,823),(885,1099),(886,1456),(887,898),(888,1270),(889,743),
(890,1062),(891,1212),(892,820),(893,1400),(894,972),(895,669),(896,1319),(897,913),(898,1159),(899,1492),
(800,1077),(805,1310),(810,1171),(815,791),(820,1257),(825,1071),(830,943),(835,1332),(840,1158),(845,911),
(850,1323),(855,1101),(860,960),(865,1381),(870,1222),(875,849),(880,1063),(885,1400),(890,934),(895,1249),
(802,983),(807,861),(812,1318),(817,1001),(822,822),(827,1146),(832,1368),(837,1040),(842,719),(847,1184),
(852,917),(857,1297),(862,1053),(867,792),(872,1224),(877,976),(882,1440),(887,1075),(892,686),(897,1351),
(803,1052),(808,1173),(813,916),(818,1283),(823,729),(828,1211),(833,1086),(838,860),(843,1340),(848,1056),
(853,1185),(858,888),(863,1324),(868,1114),(873,845),(878,1183),(883,999),(888,1367),(893,1141),(898,761),
(804,1228),(809,981),(814,1099),(819,748),(824,1030),(829,905),(834,1245),(839,1010),(844,809),(849,1376),
(854,1052),(859,1216),(864,1108),(869,953),(874,1364),(879,1076),(884,1241),(889,896),(894,1299),(899,1023),
(801,860),(806,1149),(811,1366),(816,1062),(821,1316),(826,961),(831,1265),(836,900),(841,1069),(846,1204),
(851,878),(856,1148),(861,1021),(866,1277),(871,1388),(876,1215),(881,881),(886,1161),(891,1437),(896,1082),
(800,1194),(804,691),(808,1059),(812,958),(816,1264),(820,889),(824,1165),(828,1301),(832,1180),(836,1013),
(840,1289),(844,1086),(848,1232),(852,1248),(856,981),(860,1151),(864,915),(868,1380),(872,1097),(876,1336),
(880,910),(884,1068),(888,969),(892,1238),(896,1011),(802,1178),(806,830),(810,1029),(814,1326),(818,1095),
(822,1236),(826,1345),(830,1084),(834,949),(838,1128),(842,1281),(846,860),(850,1190),(854,1409),(858,1263),
(862,1208),(866,927),(870,1319),(874,1173),(878,1052),(882,1189),(886,1019),(890,1309),(894,1180),(898,1416),
(803,928),(813,1150),(823,1202),(833,803),(843,1234),(853,1023),(863,1372),(873,1305),(883,1111),(893,1016),
(807,1324),(817,1190),(827,1051),(837,1234),(847,1117),(857,1381),(867,1101),(877,1449),(887,1325),(897,1240),
(805,1214),(815,1396),(825,1333),(835,1188),(845,1424),(855,1270),(865,1200),(875,1081),(885,1276),(895,1131),
(809,1259),(819,1124),(829,1168),(839,1312),(849,1252),(859,1438),(869,1157),(879,1285),(889,1148),(899,1340),
(801,1234),(811,1295),(821,1179),(831,1056),(841,1347),(851,1150),(861,1079),(871,1276),(881,1380),(891,1093),
(805,1452),(825,1468),(845,1485),(865,1502),(885,1519),(815,1431),(835,1447),(855,1463),(875,1480),(895,1497)]

PTS_CORE_090_100 = [(900,962),(901,1170),(902,772),(903,1335),(904,873),(905,1051),(906,682),(907,1241),(908,820),(909,1398),
(910,915),(911,733),(912,1111),(913,1283),(914,809),(915,990),(916,650),(917,1208),(918,888),(919,1431),
(920,1054),(921,763),(922,1151),(923,965),(924,1362),(925,688),(926,1255),(927,866),(928,1076),(929,1460),
(930,794),(931,1190),(932,937),(933,1317),(934,712),(935,1107),(936,1409),(937,838),(938,1024),(939,1273),
(940,660),(941,1161),(942,1479),(943,892),(944,1230),(945,768),(946,1068),(947,1352),(948,951),(949,1152),
(950,820),(951,1432),(952,1112),(953,694),(954,1289),(955,978),(956,1499),(957,842),(958,1181),(959,1040),
(960,742),(961,1348),(962,908),(963,1223),(964,1525),(965,784),(966,1089),(967,1274),(968,658),(969,1388),
(970,973),(971,1135),(972,816),(973,1471),(974,1028),(975,1305),(976,723),(977,1169),(978,1540),(979,898),
(980,1233),(981,1035),(982,681),(983,1408),(984,859),(985,1146),(986,1514),(987,937),(988,1324),(989,776),
(990,1108),(991,1264),(992,856),(993,1458),(994,1015),(995,698),(996,1375),(997,952),(998,1209),(999,1551),
(900,1122),(905,1366),(910,1222),(915,826),(920,1311),(925,1117),(930,985),(935,1389),(940,1208),(945,951),
(950,1380),(955,1149),(960,1002),(965,1440),(970,1275),(975,886),(980,1108),(985,1459),(990,975),(995,1302),
(902,1026),(907,899),(912,1374),(917,1045),(922,858),(927,1196),(932,1426),(937,1086),(942,751),(947,1234),
(952,957),(957,1353),(962,1099),(967,827),(972,1277),(977,1019),(982,1500),(987,1122),(992,717),(997,1409),
(903,1097),(908,1224),(913,957),(918,1338),(923,761),(928,1264),(933,1134),(938,898),(943,1397),(948,1102),
(953,1236),(958,927),(963,1381),(968,1163),(973,882),(978,1234),(983,1043),(988,1426),(993,1191),(998,795),
(904,1281),(909,1024),(914,1147),(919,781),(924,1075),(929,945),(934,1299),(939,1055),(944,845),(949,1435),
(954,1098),(959,1268),(964,1156),(969,994),(974,1422),(979,1123),(984,1295),(989,935),(994,1355),(999,1068),
(901,898),(906,1199),(911,1425),(916,1108),(921,1373),(926,1003),(931,1319),(936,940),(941,1115),(946,1256),
(951,917),(956,1197),(961,1065),(966,1332),(971,1449),(976,1267),(981,920),(986,1211),(991,1498),(996,1129),
(900,1245),(904,721),(908,1104),(912,1000),(916,1318),(920,927),(924,1215),(928,1357),(932,1231),(936,1057),
(940,1344),(944,1133),(948,1285),(952,1302),(956,1024),(960,1200),(964,955),(968,1440),(972,1145),(976,1393),
(980,950),(984,1114),(988,1011),(992,1291),(996,1054),(902,1229),(906,866),(910,1073),(914,1383),(918,1142),
(922,1289),(926,1402),(930,1131),(934,990),(938,1177),(942,1336),(946,898),(950,1241),(954,1470),(958,1317),
(962,1260),(966,968),(970,1376),(974,1224),(978,1097),(982,1240),(986,1063),(990,1366),(994,1231),(998,1477),
(903,969),(913,1200),(923,1254),(933,838),(943,1287),(953,1067),(963,1432),(973,1362),(983,1159),(993,1060),
(907,1381),(917,1242),(927,1097),(937,1288),(947,1166),(957,1441),(967,1149),(977,1512),(987,1383),(997,1294),
(905,1267),(915,1456),(925,1391),(935,1240),(945,1485),(955,1325),(965,1252),(975,1128),(985,1331),(995,1180),
(909,1313),(919,1173),(929,1219),(939,1369),(949,1306),(959,1500),(969,1208),(979,1341),(989,1198),(999,1398),
(901,1288),(911,1351),(921,1231),(931,1102),(941,1405),(951,1200),(961,1126),(971,1332),(981,1441),(991,1140),
(1000,1263),(1000,1148),(1000,1388),(1000,1001),(1000,1502),(1000,917),(1000,1185),(1000,1342),(1000,1077),(1000,1430),
(999,1259),(999,1001),(998,1133),(998,1484),(997,1076),(997,1233),(996,1310),(999,1170),(998,1025),(999,1455)]

PTS_CORE_LOW = [(620,512),(623,634),(626,471),(629,718),(632,556),(635,683),(638,497),(641,602),(644,741),(647,528),
(650,654),(653,459),(656,577),(659,702),(662,535),(665,761),(668,618),(671,482),(674,677),(677,549),
(680,733),(683,508),(686,640),(689,573),(692,466),(695,752),(698,611),(701,528),(704,694),(707,455),
(710,621),(713,547),(716,768),(719,589),(722,478),(725,706),(728,651),(731,532),(734,745),(737,491),
(740,668),(743,573),(746,462),(749,712),(752,541),(755,636),(758,503),(761,747),(764,588),(767,662),
(770,471),(773,724),(776,558),(779,617),(782,496),(785,771),(788,539),(791,659),(794,480),(797,702),
(800,584),(803,643),(806,508),(809,755),(812,561),(815,690),(818,472),(821,622),(824,744),(827,531),
(830,673),(833,497),(836,587),(839,763),(842,542),(845,640),(848,488),(851,716),(854,569),(857,658),
(860,517),(863,772),(866,596),(869,476),(872,681),(875,551),(878,735),(881,509),(884,628),(887,568),
(890,752),(893,494),(896,662),(899,537),(902,707),(905,585),(908,641),(911,521),(914,769),(917,603),
(920,551),(923,690),(926,483),(929,726),(932,574),(935,647),(938,523),(941,758),(944,608),(947,552),
(950,700),(953,497),(956,634),(959,578),(962,765),(965,533),(968,669),(971,602),(974,741),(977,519),
(980,651),(983,571),(986,719),(989,505),(992,628),(995,684),(998,548),(1000,612),(999,752),(997,579),
(627,588),(637,652),(647,612),(657,528),(667,697),(677,641),(687,531),(697,684),(707,592),(717,671),
(727,558),(737,628),(747,735),(757,596),(767,531),(777,683),(787,612),(797,566),(807,698),(817,583),
(827,633),(837,524),(847,702),(857,574),(867,641),(877,602),(887,715),(897,620),(907,556),(917,684),
(927,627),(937,712),(947,648),(957,718),(967,561),(977,683),(987,624),(997,658),(632,696),(652,739),
(672,582),(692,627),(712,706),(732,612),(752,689),(772,642),(792,575),(812,631),(832,744),(852,614),
(872,560),(892,590),(912,632),(932,689),(952,587),(972,651),(992,566),(662,612),(702,770),(742,523),
(782,590),(822,561),(862,689),(902,628),(942,681),(982,615),(715,506),(755,716),(795,641),(835,669),
(875,619),(915,539),(955,649),(995,600),(685,711),(725,594),(765,701),(805,562),(845,598),(885,668),
(925,574),(965,705),(730,671),(770,552),(810,685),(850,637),(890,549),(930,621),(970,536),(760,642)]

PTS_CORE_HIGH = [(780,1283),(784,1352),(788,1231),(792,1408),(796,1296),(800,1447),(804,1264),(808,1383),(812,1318),(816,1462),
(820,1236),(824,1405),(828,1341),(832,1489),(836,1277),(840,1431),(844,1359),(848,1512),(852,1248),(856,1392),
(860,1327),(864,1535),(868,1269),(872,1446),(876,1374),(880,1552),(884,1302),(888,1478),(892,1409),(896,1567),
(900,1285),(904,1462),(908,1347),(912,1528),(916,1391),(920,1571),(924,1316),(928,1497),(932,1436),(936,1603),
(940,1269),(944,1453),(948,1381),(952,1586),(956,1324),(960,1479),(964,1407),(968,1614),(972,1296),(976,1522),
(980,1432),(984,1591),(988,1354),(992,1546),(996,1471),(1000,1625),(999,1299),(997,1568),(995,1402),(993,1505),
(786,1305),(806,1427),(826,1266),(846,1455),(866,1390),(886,1531),(906,1410),(926,1544),(946,1502),(966,1561),
(986,1449),(814,1365),(834,1401),(854,1478),(874,1320),(894,1448),(914,1475),(934,1355),(954,1440),(974,1475),
(994,1580),(802,1335),(822,1480),(842,1298),(862,1419),(882,1397),(902,1509),(922,1426),(942,1577),(962,1349),
(982,1503),(818,1255),(858,1501),(898,1328),(938,1492),(978,1376),(838,1350),(878,1283),(918,1347),(958,1542)]

LINE_X = [0, 1]
LINE_Y = [0, 2]

X_TICKS = [0, 0.2, 0.4, 0.6, 0.8, 1]
X_TICK_TEXT = ["0", "0.2", "0.4", "0.6", "0.8", "1"]
X_MINOR = [0.1, 0.3, 0.5, 0.7, 0.9]
Y_TICKS = [0, 0.5, 1, 1.5, 2]
Y_TICK_TEXT = ["0", "0.5", "1", "1.5", "2"]
Y_MINOR = [0.25, 0.75, 1.25, 1.75]

GROUPS = [PTS_015_045, PTS_045_050, PTS_050_055, PTS_055_060, PTS_060_065,
          PTS_065_070, PTS_070_075, PTS_075_080, PTS_080_085, PTS_085_090,
          PTS_090_095, PTS_095_100, PTS_CORE_050_060, PTS_CORE_060_070,
          PTS_CORE_070_080, PTS_CORE_080_090, PTS_CORE_090_100,
          PTS_CORE_LOW, PTS_CORE_HIGH]

cw = [p[0] / 1000 for g in GROUPS for p in g]
cr = [p[1] / 1000 for g in GROUPS for p in g]

FONT = "Liberation Serif, Times New Roman, serif"

fig = go.Figure()
fig.add_trace(go.Scatter(x=cw, y=cr, mode="markers",
                         marker=dict(color="#0000ff", size=6, line=dict(width=0)),
                         showlegend=False, hoverinfo="skip"))
fig.add_trace(go.Scatter(x=LINE_X, y=LINE_Y, mode="lines",
                         line=dict(color="#660a46", width=7),
                         showlegend=False, hoverinfo="skip"))

axis_common = dict(showgrid=False, zeroline=False, showline=True, linecolor="black",
                   linewidth=2, mirror=True, ticks="inside", ticklen=25, tickwidth=2,
                   tickcolor="black", automargin=False,
                   tickfont=dict(family=FONT, size=70, color="black"))

fig.update_xaxes(range=[0, 1], tickmode="array", tickvals=X_TICKS, ticktext=X_TICK_TEXT,
                 minor=dict(tickmode="array", tickvals=X_MINOR, ticks="inside",
                            ticklen=12, tickwidth=2, tickcolor="black", showgrid=False),
                 ticklabelstandoff=-20, **axis_common)
fig.update_yaxes(range=[0, 2], tickmode="array", tickvals=Y_TICKS, ticktext=Y_TICK_TEXT,
                 minor=dict(tickmode="array", tickvals=Y_MINOR, ticks="inside",
                            ticklen=12, tickwidth=2, tickcolor="black", showgrid=False),
                 ticklabelstandoff=-2, **axis_common)

fig.update_layout(
    width=1755, height=1240,
    margin=dict(l=229, r=143, t=38, b=157),
    paper_bgcolor="white", plot_bgcolor="white",
    font=dict(family=FONT, color="black"),
    annotations=[
        dict(text="C<sub>w</sub>(ρ)", xref="paper", yref="paper", x=0.5, y=-0.062,
             xanchor="center", yanchor="top", showarrow=False,
             font=dict(family=FONT, size=70, color="black")),
        dict(text="C<sub>R</sub>(ρ)", xref="paper", yref="paper", x=-0.108, y=0.5,
             xanchor="center", yanchor="middle", textangle=-90, showarrow=False,
             font=dict(family=FONT, size=70, color="black")),
    ],
)

fig.write_html("out.html")
